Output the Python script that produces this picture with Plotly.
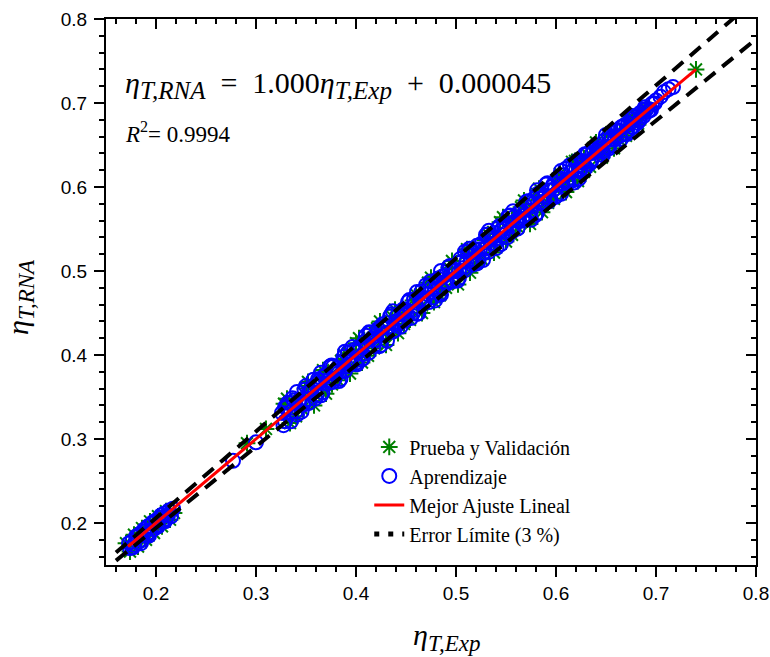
import plotly.graph_objects as go

# ---------------- data ----------------
# Aprendizaje (blue open circles)
learn_x = [0.174, 0.176, 0.178, 0.180, 0.182, 0.184, 0.186, 0.188, 0.190, 0.192, 0.194, 0.196,
           0.198, 0.200, 0.202, 0.204, 0.206, 0.208, 0.210, 0.212, 0.217, 0.277, 0.300,
           0.173, 0.177, 0.181, 0.185, 0.189, 0.193, 0.197, 0.201, 0.205, 0.209, 0.213, 0.215,
           0.326, 0.329, 0.332, 0.335, 0.338, 0.341, 0.344, 0.347, 0.350, 0.353, 0.356, 0.359,
           0.362, 0.365, 0.368, 0.371, 0.374, 0.377, 0.380, 0.383, 0.386, 0.389, 0.392, 0.395,
           0.398, 0.401, 0.404, 0.407, 0.410, 0.413, 0.416, 0.419, 0.422, 0.425, 0.428, 0.431,
           0.434, 0.437, 0.440, 0.443, 0.446, 0.449, 0.452, 0.455, 0.458, 0.461, 0.464, 0.467,
           0.470, 0.473, 0.476, 0.479, 0.482, 0.485, 0.488, 0.491, 0.494, 0.497, 0.500, 0.503,
           0.506, 0.509, 0.512, 0.515, 0.518, 0.521, 0.524, 0.527, 0.530, 0.533, 0.536, 0.539,
           0.542, 0.545, 0.548, 0.551, 0.554, 0.557, 0.560, 0.563, 0.566, 0.569, 0.572, 0.575,
           0.578, 0.581, 0.584, 0.587, 0.590, 0.593, 0.596, 0.599, 0.602, 0.605, 0.608, 0.611,
           0.614, 0.617, 0.620, 0.623, 0.626, 0.629, 0.632, 0.635, 0.638, 0.641, 0.644, 0.647,
           0.650, 0.653, 0.656, 0.659, 0.662, 0.665, 0.668, 0.671, 0.674, 0.677, 0.680, 0.684,
           0.688, 0.692, 0.696, 0.700, 0.708, 0.717,
           0.3275, 0.3305, 0.3335, 0.3365, 0.3395, 0.3425, 0.3455, 0.3485, 0.3515, 0.3545,
           0.3575, 0.3605, 0.3635, 0.3665, 0.3695, 0.3725, 0.3755, 0.3785, 0.3815, 0.3845,
           0.3875, 0.3905, 0.3935, 0.3965, 0.3995, 0.4025, 0.4055, 0.4085, 0.4115, 0.4145,
           0.4175, 0.4205, 0.4235, 0.4265, 0.4295, 0.4325, 0.4355, 0.4385, 0.4415, 0.4445,
           0.4475, 0.4505, 0.4535, 0.4565, 0.4595, 0.4625, 0.4655, 0.4685, 0.4715, 0.4745,
           0.4775, 0.4805, 0.4835, 0.4865, 0.4895, 0.4925, 0.4955, 0.4985, 0.5015, 0.5045,
           0.5075, 0.5105, 0.5135, 0.5165, 0.5195, 0.5225, 0.5255, 0.5285, 0.5315, 0.5345,
           0.5375, 0.5405, 0.5435, 0.5465, 0.5495, 0.5525, 0.5555, 0.5585, 0.5615, 0.5645,
           0.5675, 0.5705, 0.5735, 0.5765, 0.5795, 0.5825, 0.5855, 0.5885, 0.5915, 0.5945,
           0.5975, 0.6005, 0.6035, 0.6065, 0.6095, 0.6125, 0.6155, 0.6185, 0.6215, 0.6245,
           0.6275, 0.6305, 0.6335, 0.6365, 0.6395, 0.6425, 0.6455, 0.6485, 0.6515, 0.6545,
           0.6575, 0.6605, 0.6635, 0.6665, 0.6695, 0.6725, 0.6755, 0.6785, 0.6815, 0.6845,
           0.6875, 0.6905, 0.6935, 0.6985, 0.7045, 0.7125,
           0.329, 0.335, 0.341, 0.347, 0.353, 0.359, 0.365, 0.371, 0.377, 0.383, 0.389, 0.395,
           0.401, 0.407, 0.413, 0.419, 0.425, 0.431, 0.437, 0.443, 0.449, 0.455, 0.461, 0.467,
           0.473, 0.479, 0.485, 0.491, 0.497, 0.503, 0.509, 0.515, 0.521, 0.527, 0.533, 0.539,
           0.545, 0.551, 0.557, 0.563, 0.569, 0.575, 0.581, 0.587, 0.593, 0.599, 0.605, 0.611,
           0.617, 0.623, 0.629, 0.635, 0.641, 0.647, 0.653, 0.659, 0.665, 0.671, 0.677, 0.683,
           0.689, 0.695]
learn_y = [0.170, 0.178, 0.174, 0.184, 0.177, 0.187, 0.180, 0.192, 0.185, 0.196, 0.189, 0.199,
           0.193, 0.203, 0.196, 0.206, 0.201, 0.211, 0.205, 0.209, 0.217, 0.274, 0.296,
           0.176, 0.171, 0.183, 0.176, 0.190, 0.185, 0.201, 0.198, 0.209, 0.202, 0.215, 0.208,
           0.331, 0.321, 0.343, 0.332, 0.346, 0.329, 0.346, 0.341, 0.363, 0.343, 0.360, 0.358,
           0.371, 0.352, 0.374, 0.366, 0.386, 0.368, 0.380, 0.379, 0.391, 0.381, 0.403, 0.392,
           0.406, 0.389, 0.406, 0.401, 0.423, 0.403, 0.420, 0.418, 0.431, 0.412, 0.434, 0.426,
           0.446, 0.428, 0.440, 0.439, 0.451, 0.441, 0.463, 0.452, 0.466, 0.449, 0.466, 0.461,
           0.483, 0.463, 0.480, 0.478, 0.491, 0.472, 0.494, 0.486, 0.506, 0.488, 0.500, 0.499,
           0.511, 0.501, 0.523, 0.512, 0.526, 0.509, 0.526, 0.521, 0.543, 0.523, 0.540, 0.538,
           0.551, 0.532, 0.554, 0.546, 0.566, 0.548, 0.560, 0.559, 0.571, 0.561, 0.583, 0.572,
           0.586, 0.569, 0.586, 0.581, 0.603, 0.583, 0.600, 0.598, 0.611, 0.592, 0.614, 0.606,
           0.626, 0.608, 0.620, 0.619, 0.631, 0.622, 0.640, 0.632, 0.644, 0.633, 0.646, 0.642,
           0.662, 0.646, 0.660, 0.657, 0.668, 0.657, 0.673, 0.667, 0.681, 0.671, 0.681, 0.681,
           0.692, 0.690, 0.699, 0.703, 0.713, 0.719,
           0.3165, 0.3375, 0.3315, 0.3485, 0.3325, 0.3455, 0.3325, 0.3585, 0.3475, 0.3555,
           0.3705, 0.3515, 0.3695, 0.3555, 0.3765, 0.3705, 0.3875, 0.3715, 0.3845, 0.3715,
           0.3975, 0.3865, 0.3945, 0.4095, 0.3905, 0.4085, 0.3945, 0.4155, 0.4095, 0.4265,
           0.4105, 0.4235, 0.4105, 0.4365, 0.4255, 0.4335, 0.4485, 0.4295, 0.4475, 0.4335,
           0.4545, 0.4485, 0.4655, 0.4495, 0.4625, 0.4495, 0.4755, 0.4645, 0.4725, 0.4875,
           0.4685, 0.4865, 0.4725, 0.4935, 0.4875, 0.5045, 0.4885, 0.5015, 0.4885, 0.5145,
           0.5035, 0.5115, 0.5265, 0.5075, 0.5255, 0.5115, 0.5325, 0.5265, 0.5435, 0.5275,
           0.5405, 0.5275, 0.5535, 0.5425, 0.5505, 0.5655, 0.5465, 0.5645, 0.5505, 0.5715,
           0.5655, 0.5825, 0.5665, 0.5795, 0.5665, 0.5925, 0.5815, 0.5895, 0.6045, 0.5855,
           0.6035, 0.5895, 0.6105, 0.6045, 0.6215, 0.6055, 0.6185, 0.6055, 0.6315, 0.6205,
           0.6285, 0.6385, 0.6275, 0.6405, 0.6325, 0.6465, 0.6435, 0.6555, 0.6475, 0.6565,
           0.6495, 0.6665, 0.6605, 0.6715, 0.6635, 0.6755, 0.6715, 0.6845, 0.6765, 0.6885,
           0.6845, 0.6925, 0.6915, 0.6995, 0.7075, 0.7165,
           0.338, 0.321, 0.356, 0.341, 0.356, 0.348, 0.379, 0.369, 0.386, 0.369, 0.404, 0.389,
           0.404, 0.396, 0.427, 0.417, 0.434, 0.417, 0.452, 0.437, 0.452, 0.444, 0.475, 0.465,
           0.482, 0.465, 0.500, 0.485, 0.500, 0.492, 0.523, 0.513, 0.530, 0.513, 0.548, 0.533,
           0.548, 0.540, 0.571, 0.561, 0.578, 0.561, 0.596, 0.581, 0.596, 0.588, 0.619, 0.609,
           0.626, 0.610, 0.639, 0.630, 0.643, 0.638, 0.661, 0.657, 0.671, 0.663, 0.684, 0.679,
           0.695, 0.692]

# Prueba y Validación (green asterisks)
test_x = [0.170, 0.174, 0.178, 0.182, 0.186, 0.190, 0.194, 0.198, 0.202, 0.206, 0.210, 0.214,
          0.218, 0.291, 0.310,
          0.328, 0.334, 0.340, 0.346, 0.352, 0.358, 0.364, 0.370, 0.376, 0.382, 0.388, 0.394,
          0.400, 0.406, 0.412, 0.418, 0.424, 0.430, 0.436, 0.442, 0.448, 0.454, 0.460, 0.466,
          0.472, 0.478, 0.484, 0.490, 0.496, 0.502, 0.508, 0.514, 0.520, 0.526, 0.532, 0.538,
          0.544, 0.550, 0.556, 0.562, 0.568, 0.574, 0.580, 0.586, 0.592, 0.598, 0.604, 0.610,
          0.616, 0.622, 0.628, 0.634, 0.640, 0.646, 0.652, 0.658, 0.664, 0.670, 0.676, 0.682,
          0.690, 0.740,
          0.331, 0.340, 0.349, 0.358, 0.367, 0.376, 0.385, 0.394, 0.403, 0.412, 0.421, 0.430,
          0.439, 0.448, 0.457, 0.466, 0.475, 0.484, 0.493, 0.502, 0.511, 0.520, 0.529, 0.538,
          0.547, 0.556, 0.565, 0.574, 0.583, 0.592, 0.601, 0.610, 0.619, 0.628, 0.637, 0.646,
          0.655, 0.664, 0.673, 0.682]
test_y = [0.176, 0.166, 0.186, 0.172, 0.194, 0.180, 0.202, 0.188, 0.208, 0.196, 0.214, 0.204,
          0.212, 0.295, 0.312,
          0.342, 0.319, 0.346, 0.336, 0.368, 0.354, 0.374, 0.354, 0.378, 0.370, 0.400, 0.387,
          0.414, 0.391, 0.418, 0.408, 0.440, 0.426, 0.446, 0.426, 0.450, 0.442, 0.472, 0.459,
          0.486, 0.463, 0.490, 0.480, 0.512, 0.498, 0.518, 0.498, 0.522, 0.514, 0.544, 0.531,
          0.558, 0.535, 0.562, 0.552, 0.584, 0.570, 0.590, 0.570, 0.594, 0.586, 0.616, 0.603,
          0.630, 0.607, 0.634, 0.624, 0.653, 0.642, 0.662, 0.646, 0.666, 0.661, 0.684, 0.676,
          0.694, 0.740,
          0.348, 0.327, 0.360, 0.340, 0.382, 0.365, 0.393, 0.378, 0.420, 0.399, 0.432, 0.412,
          0.454, 0.437, 0.465, 0.450, 0.492, 0.471, 0.504, 0.484, 0.526, 0.509, 0.537, 0.522,
          0.564, 0.543, 0.576, 0.556, 0.598, 0.581, 0.609, 0.594, 0.631, 0.618, 0.646, 0.635,
          0.665, 0.655, 0.681, 0.674]

# Mejor ajuste lineal: eta_RNA = 1.000 eta_Exp + 0.000045
fit_x = [0.172, 0.740]
fit_y = [0.172045, 0.740045]

# Error límite (±3 %)
lim_x = [0.160, 0.800]
lim_up_y = [0.1648, 0.8240]
lim_lo_y = [0.1552, 0.7760]

SERIF = "Liberation Serif"
SANS = "Liberation Sans"
NB = "\u00a0"

fig = go.Figure()

fig.add_trace(go.Scatter(
    x=test_x, y=test_y, mode="markers", name="Prueba y Validación",
    marker=dict(symbol="asterisk-open", size=14, color="#008000",
                line=dict(color="#008000", width=2)),
    legendrank=1))

fig.add_trace(go.Scatter(
    x=learn_x, y=learn_y, mode="markers", name="Aprendizaje",
    marker=dict(symbol="circle-open", size=14, color="#0000ff",
                line=dict(color="#0000ff", width=2)),
    legendrank=2))

for yy in (lim_up_y, lim_lo_y):
    fig.add_trace(go.Scatter(
        x=lim_x, y=yy, mode="lines", showlegend=False, hoverinfo="skip",
        line=dict(color="black", width=4, dash="14px,9px")))

fig.add_trace(go.Scatter(
    x=fit_x, y=fit_y, mode="lines", name="Mejor Ajuste Lineal",
    line=dict(color="#ff0000", width=3), legendrank=3))

# legend entry for error lines
fig.add_trace(go.Scatter(
    x=[None], y=[None], mode="lines", name="Error Límite (3 %)",
    line=dict(color="black", width=5, dash="5px,9px"), legendrank=4))

# overlay axes for inward ticks on top/right
fig.add_trace(go.Scatter(x=[None], y=[None], xaxis="x2", yaxis="y2",
                         showlegend=False, hoverinfo="skip"))

MINOR_OUT = dict(dtick=0.02, tick0=0, ticks="outside", ticklen=5, tickwidth=2,
                 tickcolor="black", showgrid=False)
MINOR_IN = dict(dtick=0.02, tick0=0, ticks="inside", ticklen=5, tickwidth=2,
                tickcolor="black", showgrid=False)


def main_axis(standoff):
    return dict(
        showgrid=False, zeroline=False, showline=True, linecolor="black", linewidth=2,
        ticks="outside", ticklen=10, tickwidth=2, tickcolor="black",
        tickfont=dict(family=SANS, size=19, color="black"),
        range=[0.15, 0.8], tickmode="linear", tick0=0, dtick=0.1, tickformat=".1f",
        automargin=False, ticklabelstandoff=standoff, minor=MINOR_OUT)


def mirror_axis(over, side):
    return dict(
        overlaying=over, side=side, range=[0.15, 0.8], showgrid=False,
        zeroline=False, showline=True, linecolor="black", linewidth=2,
        ticks="inside", ticklen=10, tickwidth=2, tickcolor="black",
        tickmode="linear", tick0=0, dtick=0.1, showticklabels=False, automargin=False,
        minor=MINOR_IN)


fig.update_layout(
    width=770, height=657,
    margin=dict(l=106, r=14, t=19, b=92, autoexpand=False),
    plot_bgcolor="white", paper_bgcolor="white",
    xaxis=main_axis(0),
    yaxis=main_axis(3),
    xaxis2=mirror_axis("x", "top"),
    yaxis2=mirror_axis("y", "right"),
    legend=dict(x=0.405, y=0.252, xanchor="left", yanchor="top",
                bgcolor="rgba(0,0,0,0)", borderwidth=0,
                font=dict(family=SERIF, size=20, color="black"),
                tracegroupgap=0, itemwidth=30),
    showlegend=True,
)

SUB = "<sub><span style='font-size:25px'><i>{}</i></span></sub>"

fig.add_annotation(
    xref="paper", yref="paper", x=0.026, y=0.879, xanchor="left", yanchor="middle",
    showarrow=False,
    text=("<i>η</i>" + SUB.format("T,RNA") + NB + NB + "=" + NB + NB + "1.000<i>η</i>"
          + SUB.format("T,Exp") + NB + NB + "+" + NB + NB + "0.000045"),
    font=dict(family=SERIF, size=30, color="black"))

fig.add_annotation(
    xref="paper", yref="paper", x=0.026, y=0.793, xanchor="left", yanchor="middle",
    showarrow=False,
    text="<i>R</i><sup>2</sup>= 0.9994",
    font=dict(family=SERIF, size=23, color="black"))

AXSUB = "<sub><span style='font-size:23px'><i>{}</i></span></sub>"

fig.add_annotation(
    xref="paper", yref="paper", x=(446 - 106) / 650, y=(565 - 637) / 546,
    xanchor="center", yanchor="middle", showarrow=False,
    text="<i>η</i>" + AXSUB.format("T,Exp"),
    font=dict(family=SERIF, size=30, color="black"))

fig.add_annotation(
    xref="paper", yref="paper", x=(20 - 106) / 650, y=(565 - 297) / 546,
    xanchor="center", yanchor="middle", showarrow=False, textangle=-90,
    text="<i>η</i>" + AXSUB.format("T,RNA"),
    font=dict(family=SERIF, size=30, color="black"))

fig.write_html("out.html")
